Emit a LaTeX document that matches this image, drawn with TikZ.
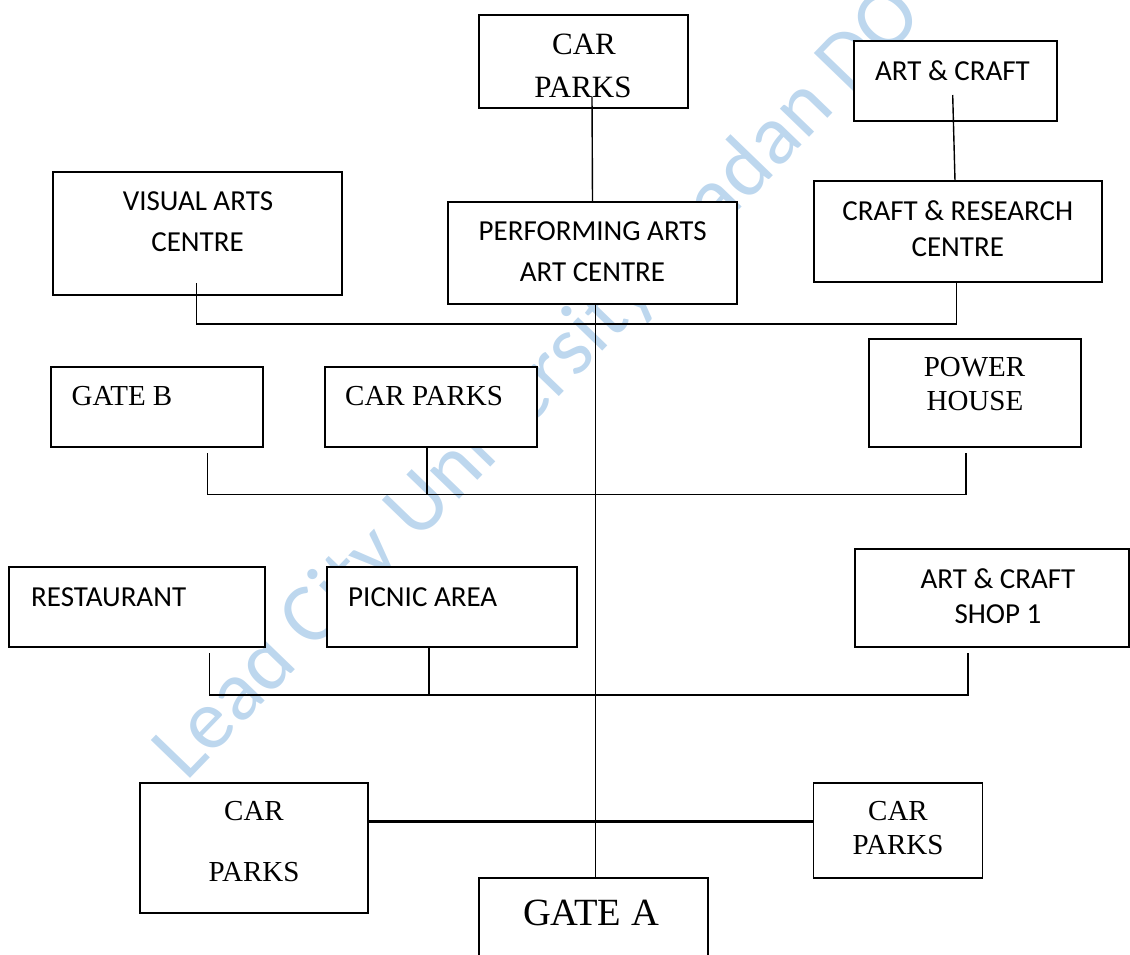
\documentclass[tikz,border=0pt]{standalone}
\usepackage{fontspec}
\setmainfont{Liberation Serif}
\newfontfamily\calibri{Carlito}
\definecolor{markblue}{RGB}{189,215,238}
\tikzset{
  box/.style 2 args={draw, fill=white, line width=1.8pt, inner sep=0pt, minimum width=#1, minimum height=#2},
  link/.style={line width=1.4pt},
  tnr/.style={font=\fontsize{29}{34}\selectfont, inner sep=0pt},
  cal/.style={font=\calibri\fontsize{29}{35}\selectfont, inner sep=0pt},
}

\begin{document}
\begin{tikzpicture}[x=1pt, y=-1pt]
            \useasboundingbox (0,0) rectangle (1130,955);
            \clip (0,0) rectangle (1130,955);
            \node[text=markblue, font=\calibri\fontsize{85}{100}\selectfont, rotate=46, anchor=base west, inner sep=0pt] (mark) at (186,783) {Lead City University Ibadan DO};

            \node[box={209pt}{93pt}] (topcar) at (583.5,61.5) {};
            \node[box={203pt}{80pt}] (artcraft) at (955.5,81) {};
            \node[box={289pt}{123pt}] (visual) at (197.5,233.5) {};
            \node[box={289pt}{102pt}] (perform) at (592.5,253) {};
            \node[box={288pt}{101pt}] (craft) at (958,231.5) {};
            \node[box={212pt}{80pt}] (gateB) at (157,407) {};
            \node[box={212pt}{80pt}] (midcar) at (431,407) {};
            \node[box={212pt}{108pt}] (power) at (975,393) {};
            \node[box={256pt}{80pt}] (rest) at (137.2,607) {};
            \node[box={250pt}{80pt}] (picnic) at (451.8,607) {};
            \node[box={274pt}{98pt}] (shop) at (992,598) {};
            \node[box={228pt}{130pt}] (botcarL) at (254,848) {};
            \node[box={169pt}{95pt}] (botcarR) at (898,830.4) {};
            \node[box={229pt}{102pt}] (gateA) at (593.5,929) {};

            \node[tnr, font=\fontsize{31}{36}\selectfont, anchor=base] (topcar1) at (584,55) {CAR};
            \node[tnr, font=\fontsize{31}{36}\selectfont, anchor=base] (topcar2) at (583,97.5) {PARKS};
            \node[cal, anchor=base] (artcraft1) at (952.5,80.3) {ART \& CRAFT};
            \node[cal, anchor=base] (visual1) at (198,210.7) {VISUAL ARTS};
            \node[cal, anchor=base] (visual2) at (197.5,251.7) {CENTRE};
            \node[cal, anchor=base] (perform1) at (592.7,240.7) {PERFORMING ARTS};
            \node[cal, anchor=base] (perform2) at (592.5,281.7) {ART CENTRE};
            \node[cal, anchor=base] (craft1) at (957.8,220) {CRAFT \& RESEARCH};
            \node[cal, anchor=base] (craft2) at (957.8,256) {CENTRE};
            \node[tnr, anchor=base west] (gateB1) at (71.4,405) {GATE B};
            \node[tnr, anchor=base west] (midcar1) at (345,405) {CAR PARKS};
            \node[tnr, anchor=base] (power1) at (974.5,376.7) {POWER};
            \node[tnr, anchor=base] (power2) at (974.9,410.7) {HOUSE};
            \node[cal, anchor=base west] (rest1) at (31,606) {RESTAURANT};
            \node[cal, anchor=base west] (picnic1) at (348,606) {PICNIC AREA};
            \node[cal, anchor=base] (shop1) at (998,588.3) {ART \& CRAFT};
            \node[cal, anchor=base] (shop2) at (998,623.3) {SHOP 1};
            \node[tnr, anchor=base] (botcarL1) at (254,820.7) {CAR};
            \node[tnr, anchor=base] (botcarL2) at (254,881) {PARKS};
            \node[tnr, anchor=base] (botcarR1) at (898,820.7) {CAR};
            \node[tnr, anchor=base] (botcarR2) at (898,854) {PARKS};
            \node[tnr, font=\fontsize{38.5}{44}\selectfont, anchor=base] (gateA1) at (591,925) {GATE A};

            \coordinate (topcarend) at (592,97); \coordinate (artend) at (952.7,95); \coordinate (craftin) at (955,181);
            \draw[link] (topcarend) -- (perform.north);
            \draw[link] (artend) -- (craftin);

            \coordinate (visualend) at (196.4,283); \coordinate (bus1) at (196.4,324); \coordinate (craftend) at (956.7,281.7);
            \draw[link] (visualend) -- (bus1) -| (craftend);

            \coordinate (gateBend) at (207.2,453.3); \coordinate (bus2) at (207.2,494.5); \coordinate (powerend) at (966,453.3);
            \coordinate (midcarend) at (427,447);
            \draw[link] (gateBend) -- (bus2) -| (powerend);
            \draw[link] (midcarend) -- (midcarend |- bus2);

            \coordinate (restend) at (209.7,653.3); \coordinate (bus3) at (209.7,695); \coordinate (shopend) at (968,653.3);
            \coordinate (picnicend) at (428.8,647);
            \draw[link] (restend) -- (bus3) -| (shopend);
            \draw[link] (picnicend) -- (picnicend |- bus3);

            \coordinate (trunktop) at (595.6,304);
            \draw[line width=1pt] (trunktop) -- (trunktop |- gateA.north);
            \coordinate (thickend) at (368,821.3);
            \draw[line width=3pt] (thickend) -- (thickend -| botcarR.west);
        \end{tikzpicture}
\end{document}
